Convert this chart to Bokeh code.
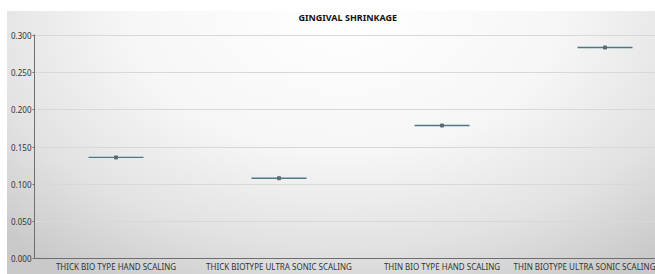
from bokeh.plotting import figure
from bokeh.models import FixedTicker, Range1d
from bokeh.embed import file_html
from bokeh.resources import INLINE

categories = ["THICK BIO TYPE HAND SCALING", "THICK BIOTYPE ULTRA SONIC SCALING",
              "THIN BIO TYPE HAND SCALING", "THIN BIOTYPE ULTRA SONIC SCALING"]
means = [0.136, 0.108, 0.179, 0.284]
y_ticks = [0.0, 0.05, 0.10, 0.15, 0.20, 0.25, 0.30]

xs = [i + 0.5 for i in range(len(categories))]

p = figure(width=655, height=274, output_backend="svg", toolbar_location=None,
           x_range=Range1d(0, 621 / 163), y_range=Range1d(0, 0.3015),
           min_border_left=34, min_border_right=0, min_border_top=34, min_border_bottom=15)

p.styles = {"background": "#ffffff radial-gradient(ellipse 75% 120% at 52% 0%, #ffffff 0%, #f6f6f6 45%, #e2e2e2 75%, #c9c9c9 100%) 7px 11px / calc(100% - 7px) calc(100% - 11px) no-repeat"}
p.border_fill_alpha = 0
p.background_fill_alpha = 0
p.outline_line_color = None

p.title.text = "GINGIVAL SHRINKAGE"
p.title.align = "left"
p.title.offset = 264
p.title.text_font = "Noto Sans"
p.title.text_font_size = "9px"
p.title.text_font_style = "bold"
p.title.text_color = "#111111"
p.title.vertical_align = "top"
p.title.standoff = 18

p.scatter(xs, means, marker="dash", size=55, line_color="#4d7886", line_width=1.3)
p.scatter(xs, means, marker="square", size=3, fill_color="#5a6a70", line_color="#5a6a70")

p.xaxis.ticker = FixedTicker(ticks=xs)
p.xaxis.major_label_overrides = {x: c for x, c in zip(xs, categories)}
p.yaxis.ticker = FixedTicker(ticks=y_ticks)
p.yaxis.major_label_overrides = {t: f"{t:.3f}" for t in y_ticks}

for ax in (p.xaxis[0], p.yaxis[0]):
    ax.axis_line_color = "#6e6e6e"
    ax.minor_tick_line_color = None
    ax.minor_tick_out = 0
    ax.minor_tick_in = 0
    ax.major_label_text_font = "Noto Sans"
    ax.major_label_text_color = "#333333"
    ax.axis_label_standoff = 0
p.xaxis.major_tick_line_color = None
p.xaxis.major_tick_out = 0
p.xaxis.major_tick_in = 0
p.xaxis.major_label_text_font_size = "8px"
p.xaxis.major_label_standoff = 2
p.yaxis.major_label_text_font_size = "8px"
p.yaxis.major_tick_line_color = "#6e6e6e"
p.yaxis.major_tick_out = 2
p.yaxis.major_tick_in = 0
p.yaxis.major_label_standoff = 1

p.xgrid.grid_line_color = None
p.ygrid.grid_line_color = "#d8d8d8"
p.ygrid.grid_line_width = 1

open("out.html", "w").write(file_html(p, INLINE))
